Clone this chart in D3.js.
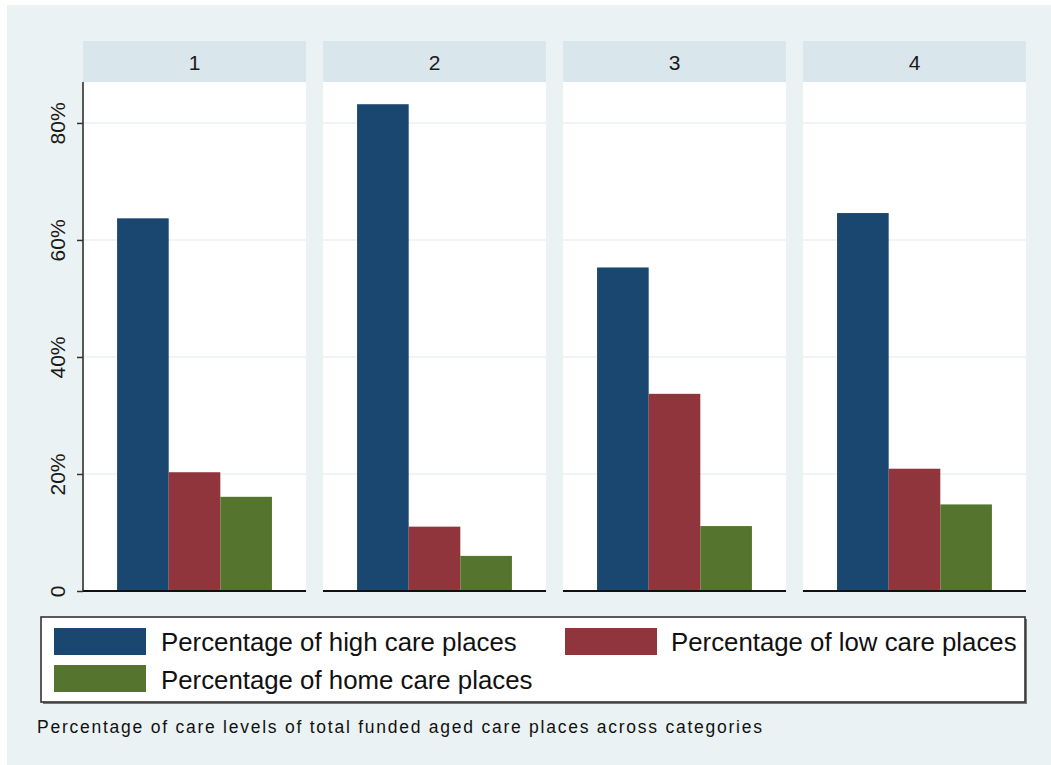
<!DOCTYPE html>
<html>
<head>
<meta charset="utf-8">
<script src="https://cdn.jsdelivr.net/npm/d3@7"></script>
<style>
  html, body { margin: 0; padding: 0; background: #ffffff; }
  svg { display: block; }
  text { font-family: "Liberation Sans", Arial, sans-serif; }
</style>
</head>
<body>
<script>
// Facet categories and the three care-level series (percent of funded places)
const categories = ["1", "2", "3", "4"];
const seriesNames = [
  "Percentage of high care places",
  "Percentage of low care places",
  "Percentage of home care places"
];
const highCare = [63.7, 83.2, 55.3, 64.6];
const lowCare  = [20.3, 11.0, 33.7, 20.9];
const homeCare = [16.1, 6.0, 11.1, 14.8];
const yTicks = [0, 20, 40, 60, 80];
const yTickLabels = ["0", "20%", "40%", "60%", "80%"];
const caption = "Percentage of care levels of total funded aged care places across categories";

const colors = ["#1a476f", "#90353b", "#55752f"];
const W = 1051, H = 765;

const svg = d3.select("body").append("svg").attr("width", W).attr("height", H);

// graph region background
svg.append("rect").attr("x", 7).attr("y", 5).attr("width", W - 7).attr("height", H - 5)
  .attr("fill", "#eaf2f3");

const plotTop = 82, plotBottom = 591, headerTop = 41;
const y = d3.scaleLinear().domain([0, 87]).range([plotBottom, plotTop]);

// panels laid out left to right
const panelX = d3.scaleBand().domain(categories).range([83, 1026]).paddingInner(0.0707).paddingOuter(0);
const barX = d3.scaleBand().domain(d3.range(3)).range([0, panelX.bandwidth()]).paddingInner(0).paddingOuter(0.66);

const values = [highCare, lowCare, homeCare];

categories.forEach((cat, ci) => {
  const g = svg.append("g").attr("transform", `translate(${panelX(cat)},0)`);
  const pw = panelX.bandwidth();
  // header strip
  g.append("rect").attr("x", 0).attr("y", headerTop).attr("width", pw).attr("height", plotTop - headerTop)
    .attr("fill", "#d9e6eb");
  g.append("text").attr("x", pw / 2).attr("y", (headerTop + plotTop) / 2 + 8)
    .attr("text-anchor", "middle").attr("font-size", 21).attr("fill", "#1a1a1a").text(cat);
  // plot area
  g.append("rect").attr("x", 0).attr("y", plotTop).attr("width", pw).attr("height", plotBottom - plotTop)
    .attr("fill", "#ffffff");
  // gridlines
  g.selectAll("line.grid").data(yTicks.slice(1)).enter().append("line")
    .attr("x1", 0).attr("x2", pw).attr("y1", d => y(d)).attr("y2", d => y(d))
    .attr("stroke", "#eaf2f3").attr("stroke-width", 1.5);
  // bars
  g.selectAll("rect.bar").data(values.map(v => v[ci])).enter().append("rect")
    .attr("x", (d, i) => barX(i)).attr("width", barX.bandwidth())
    .attr("y", d => y(d)).attr("height", d => y(0) - y(d))
    .attr("fill", (d, i) => colors[i]);
  // baseline
  g.append("line").attr("x1", 0).attr("x2", pw).attr("y1", plotBottom).attr("y2", plotBottom)
    .attr("stroke", "#111").attr("stroke-width", 2);
});

// y axis on the first panel
const axisG = svg.append("g").attr("transform", `translate(${panelX(categories[0])},0)`);
const yAxis = d3.axisLeft(y).tickValues(yTicks).tickSize(6).tickFormat((d, i) => yTickLabels[i]);
axisG.call(yAxis);
axisG.select(".domain").attr("stroke", "#222").attr("stroke-width", 1.5)
  .attr("d", `M0,${plotTop}V${plotBottom}`);
axisG.selectAll(".tick line").attr("stroke", "#333").attr("stroke-width", 1.5);
axisG.selectAll(".tick text")
  .attr("font-size", 21).attr("fill", "#1a1a1a")
  .attr("font-family", "'Liberation Sans', Arial, sans-serif")
  .attr("text-anchor", "middle")
  .attr("x", null).attr("dy", null)
  .attr("transform", "translate(-18,0) rotate(-90)")
  .attr("y", 0);

// legend
const lg = svg.append("g");
// soft shadow along right and bottom edges of the key
lg.append("path").attr("d", "M1026,619V703H43").attr("fill", "none")
  .attr("stroke", "#777").attr("stroke-width", 2);
lg.append("rect").attr("x", 41).attr("y", 617).attr("width", 984).attr("height", 85)
  .attr("fill", "#ffffff").attr("stroke", "#333").attr("stroke-width", 1.6);
const legendPos = [
  { sx: 54, sy: 628, tx: 161, ty: 651 },
  { sx: 565, sy: 628, tx: 671, ty: 651 },
  { sx: 54, sy: 665, tx: 161, ty: 689 }
];
seriesNames.forEach((name, i) => {
  const p = legendPos[i];
  lg.append("rect").attr("x", p.sx).attr("y", p.sy).attr("width", 92).attr("height", 27)
    .attr("fill", colors[i]);
  lg.append("text").attr("x", p.tx).attr("y", p.ty).attr("font-size", 25.8).attr("fill", "#111").text(name);
});

// caption
svg.append("text").attr("x", 37).attr("y", 733).attr("font-size", 17.5).attr("fill", "#111")
  .attr("textLength", 725).attr("lengthAdjust", "spacing").text(caption);
</script>
</body>
</html>
